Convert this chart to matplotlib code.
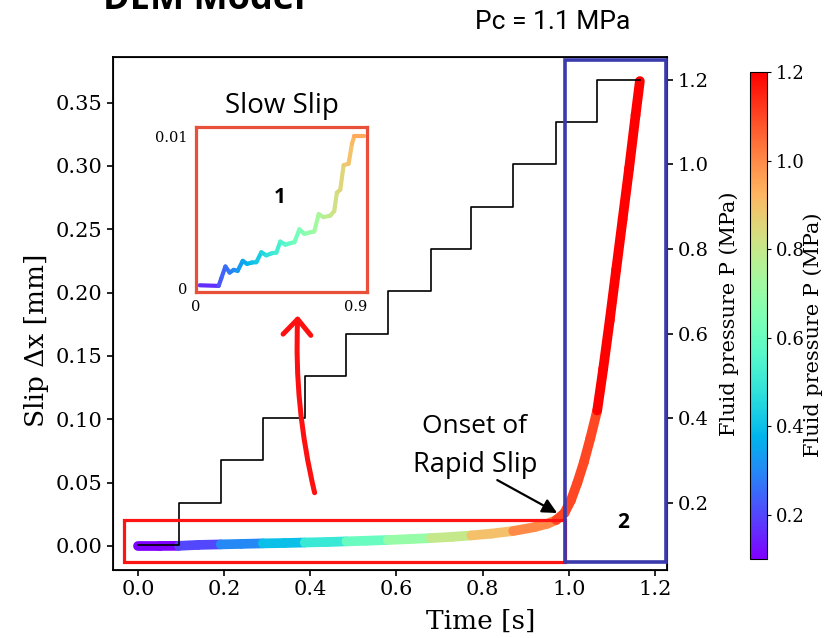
import numpy as np
import matplotlib
matplotlib.use('Agg')
import matplotlib.pyplot as plt
from matplotlib.collections import LineCollection
from matplotlib.colors import Normalize
from matplotlib.patches import Rectangle
from matplotlib.cm import ScalarMappable

plt.rcParams['font.family'] = ['DejaVu Serif']

# ---------------- data ----------------
step_times = [0.0, 0.095, 0.192, 0.290, 0.387, 0.484, 0.580, 0.680, 0.774, 0.871, 0.971, 1.066]
step_levels = [0.1, 0.2, 0.3, 0.4, 0.5, 0.6, 0.7, 0.8, 0.9, 1.0, 1.1, 1.2]
step_end = 1.165

slip_t = [0.00, 0.05, 0.095, 0.14, 0.192, 0.24, 0.29, 0.34, 0.387, 0.44, 0.484, 0.53,
          0.58, 0.63, 0.68, 0.73, 0.774, 0.82, 0.871, 0.92, 0.95, 0.971, 0.99, 1.005,
          1.02, 1.035, 1.05, 1.066, 1.08, 1.095, 1.11, 1.125, 1.14, 1.155, 1.165]
slip_mm = [0.0, 0.0, 0.0001, 0.0008, 0.0012, 0.0016, 0.0020, 0.0023, 0.0027, 0.0031, 0.0036, 0.0041,
           0.0047, 0.0054, 0.0062, 0.0072, 0.0083, 0.0097, 0.0118, 0.0148, 0.0175, 0.0205, 0.026, 0.036,
           0.050, 0.066, 0.085, 0.107, 0.140, 0.178, 0.218, 0.258, 0.298, 0.340, 0.367]

inset_t = [0.021, 0.128, 0.143, 0.166, 0.19, 0.213, 0.235, 0.264, 0.288, 0.316, 0.341, 0.369,
           0.397, 0.429, 0.454, 0.476, 0.505, 0.533, 0.556, 0.584, 0.612, 0.642, 0.668, 0.693,
           0.721, 0.759, 0.781, 0.796, 0.815, 0.834, 0.862, 0.881, 0.894, 0.947]
inset_slip = [0.00024, 0.0002, 0.0007, 0.00147, 0.00107, 0.00125, 0.00118, 0.00184, 0.00164, 0.00173,
              0.00175, 0.0024, 0.0022, 0.00234, 0.00238, 0.0031, 0.0029, 0.0030, 0.00306, 0.0039,
              0.0036, 0.0037, 0.00376, 0.0049, 0.0047, 0.0048, 0.0051, 0.0063, 0.0065, 0.0081,
              0.0082, 0.0095, 0.0100, 0.0100]

x_ticks = [0.0, 0.2, 0.4, 0.6, 0.8, 1.0, 1.2]
y_ticks = [0.00, 0.05, 0.10, 0.15, 0.20, 0.25, 0.30, 0.35]
p_ticks = [0.2, 0.4, 0.6, 0.8, 1.0, 1.2]
cb_ticks = [0.2, 0.4, 0.6, 0.8, 1.0, 1.2]

W, H = 825, 638
def fx(px):
    return px / W
def fy(py):
    return 1 - py / H

cmap = plt.get_cmap('rainbow')
pnorm = Normalize(0.1, 1.2)
SANS = ['Open Sans', 'DejaVu Sans']

fig = plt.figure(figsize=(8.25, 6.38), dpi=100)
ax = fig.add_axes([fx(113), fy(570), (667 - 113) / W, (570 - 57) / H])
ax.set_xlim(-0.058, 1.228)
ax.set_ylim(-0.019, 0.386)
ax.set_xticks(x_ticks)
ax.set_xticklabels([f'{v:.1f}' for v in x_ticks])
ax.set_yticks(y_ticks)
ax.set_yticklabels([f'{v:.2f}' for v in y_ticks])
ax.tick_params(labelsize=15, length=4, width=1.2)
for s in ax.spines.values():
    s.set_linewidth(1.3)

# main slip curve coloured by the step pressure
t = np.array(slip_t)
s = np.array(slip_mm)
pts = np.column_stack([t, s]).reshape(-1, 1, 2)
segs = np.concatenate([pts[:-1], pts[1:]], axis=1)
tmid = 0.5 * (t[:-1] + t[1:])
idx = np.searchsorted(step_times, tmid, side='right') - 1
seg_p = np.array(step_levels)[idx]
lc = LineCollection(segs, cmap=cmap, norm=pnorm, linewidths=7, capstyle='round', joinstyle='round')
lc.set_array(seg_p)
ax.add_collection(lc)

# pressure staircase on twin axis
ax2 = ax.twinx()
ax2.set_ylim(0.041, 1.254)
ax2.set_yticks(p_ticks)
ax2.set_yticklabels([f'{v:.1f}' for v in p_ticks])
ax2.tick_params(labelsize=14, length=4, width=1.2)
ax2.step(list(step_times) + [step_end], list(step_levels) + [step_levels[-1]],
         where='post', color='black', lw=1.2, zorder=3)
ax2.set_ylabel('Fluid pressure P (MPa)', fontsize=15, labelpad=8)

# boxes
ax2.add_patch(Rectangle((-0.032, -0.0126), 0.992 + 0.032, 0.0205 + 0.0126, transform=ax.transData,
                        fill=False, ec='#ff1414', lw=2.3, clip_on=False, zorder=4))
ax2.add_patch(Rectangle((0.992, -0.0126), 1.225 - 0.992, 0.384 + 0.0126, transform=ax.transData,
                        fill=False, ec='#3a3aad', lw=2.6, clip_on=False, zorder=4))

# arrows
ax2.annotate('', xy=(0.973, 0.026), xycoords=ax.transData,
             xytext=(0.834, 0.052), textcoords=ax.transData,
             arrowprops=dict(arrowstyle='-|>', color='black', lw=1.6, mutation_scale=22,
                             shrinkA=0, shrinkB=0), zorder=5)
ax2.annotate('', xy=(0.371, 0.182), xycoords=ax.transData,
             xytext=(0.410, 0.042), textcoords=ax.transData,
             arrowprops=dict(arrowstyle='->,head_length=0.45,head_width=0.4', color='#ff1010', lw=3.6,
                             mutation_scale=25, shrinkA=0, shrinkB=0,
                             connectionstyle='arc3,rad=-0.07'), zorder=5)

# texts
fig.text(fx(481), fy(621), 'Time [s]', ha='center', va='center', fontsize=19)
fig.text(fx(37), fy(340), 'Slip Δx [mm]', ha='center', va='center', rotation=90, fontsize=19)
fig.text(fx(474), fy(433), 'Onset of', ha='center', va='baseline', fontsize=19, family=SANS)
fig.text(fx(475), fy(472), 'Rapid Slip', ha='center', va='baseline', fontsize=19.5, family=SANS)
fig.text(fx(282), fy(113), 'Slow Slip', ha='center', va='baseline', fontsize=20, family=SANS)
fig.text(fx(553), fy(22), 'Pc = 1.1 MPa', ha='center', va='center', fontsize=19, family=['Roboto', 'DejaVu Sans'])
fig.text(fx(103), fy(9), 'DEM Model', ha='left', va='baseline', fontsize=26, fontweight='bold', family=SANS)
fig.text(fx(623), fy(523), '2', ha='center', va='center', fontsize=15, fontweight='bold', family=SANS)

# inset
axins = fig.add_axes([fx(196), fy(292), (367 - 196) / W, (292 - 127) / H])
axins.set_xlim(0, 0.966)
axins.set_ylim(-0.0002, 0.0106)
axins.set_xticks([0, 0.9])
axins.set_xticklabels(['0', '0.9'])
axins.set_yticks([0, 0.01])
axins.set_yticklabels(['0', '0.01'])
axins.tick_params(length=0, labelsize=10.5, pad=6)
for sp in axins.spines.values():
    sp.set_color('#e8503a')
    sp.set_linewidth(2.3)
ti = np.array(inset_t)
si = np.array(inset_slip)
ipts = np.column_stack([ti, si]).reshape(-1, 1, 2)
isegs = np.concatenate([ipts[:-1], ipts[1:]], axis=1)
ilc = LineCollection(isegs, cmap=cmap, norm=Normalize(0, 1.2), linewidths=3,
                     capstyle='round', joinstyle='round')
ilc.set_array(0.5 * (ti[:-1] + ti[1:]))
axins.add_collection(ilc)
fig.text(fx(280), fy(198), '1', ha='center', va='center', fontsize=15, fontweight='bold', family=SANS)

# colorbar
cax = fig.add_axes([fx(750), fy(559), 17 / W, (559 - 72) / H])
sm = ScalarMappable(norm=pnorm, cmap=cmap)
cb = fig.colorbar(sm, cax=cax, ticks=cb_ticks)
cb.ax.set_yticklabels([f'{v:.1f}' for v in cb_ticks])
cb.ax.tick_params(labelsize=13, length=3)
cb.outline.set_linewidth(0.8)
fig.text(fx(803), fy(335), 'Fluid pressure P (MPa)', ha='left', va='center', rotation=90, fontsize=15)

fig.savefig('out.png', dpi=100)
